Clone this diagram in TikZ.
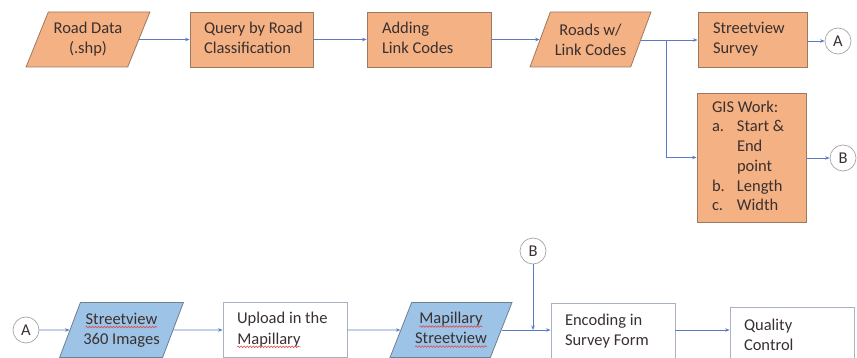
\documentclass[tikz,border=0pt]{standalone}
\usepackage{fontspec}
\setmainfont{Carlito}
\usetikzlibrary{shapes.geometric,arrows.meta,decorations.pathmorphing}
\definecolor{orfill}{HTML}{F4B183}
\definecolor{orline}{HTML}{9C7A62}
\definecolor{blfill}{HTML}{9DC3E6}
\definecolor{blline}{HTML}{6E7F96}
\definecolor{arrc}{HTML}{5B7BC4}
\definecolor{txt}{HTML}{3A3030}
\definecolor{sq}{HTML}{E0474C}
\newcommand\rsq[1]{\tikz[baseline=(w.base),x=1cm,y=1cm]{\node[shape=rectangle, draw=none, fill=none, inner sep=0pt, outer sep=0pt, minimum width=0pt, minimum height=0pt, text width={}, align=none, anchor=center](w){#1};
  \draw[sq,line width=0.6pt,decorate,decoration={snake,amplitude=0.8pt,segment length=3pt}] ([yshift=-2.8pt]w.base west) -- ([yshift=-2.8pt]w.base east);}}
\newcommand\lb[2]{\makebox[#1][l]{\begin{tabular}{@{}l@{}}#2\end{tabular}}}
\tikzset{
  base/.style={font=\fontsize{16.5}{20}\selectfont, text=txt, line width=0.8pt},
  orbox/.style={base, rectangle, draw=orline, fill=orfill, minimum height=55pt, inner xsep=14pt},
  wbox/.style={base, rectangle, draw=blline!60, fill=white, minimum height=55pt, inner xsep=14pt},
  orpara/.style={base, trapezium, trapezium left angle=64.7, trapezium right angle=115.3, trapezium stretches=true, draw=orline, fill=orfill, minimum height=55pt, align=center, inner xsep=0pt},
  blpara/.style={base, trapezium, trapezium left angle=64.7, trapezium right angle=115.3, trapezium stretches=true, draw=blline, fill=blfill, minimum height=55pt, align=center, inner xsep=0pt},
  conn/.style={base, circle, draw=gray!70, fill=white, minimum size=26pt, inner sep=0pt, line width=0.7pt},
  arr/.style={draw=arrc, line width=0.7pt, -{Stealth[length=4.5pt,width=3.5pt]}}
}
\begin{document}
\begin{tikzpicture}[x=1pt,y=-1pt]
\useasboundingbox (0,0) rectangle (857,358);
\clip (0,0) rectangle (857,358);
% top row
\node[orpara, minimum width=124pt] (rd) at (88,39.5) {Road Data\\(.shp)};
\node[orbox] (q) at (251.5,39.5) {\lb{95pt}{Query by Road\\Classification}};
\node[orbox, inner xsep=15pt] (al) at (429,39.5) {\lb{94pt}{Adding\\Link Codes}};
\node[orpara, minimum width=121pt] (rw) at (590.5,39.5) {Roads w/\\Link Codes};
\node[orbox, inner xsep=15pt] (ss) at (752.5,39.5) {\lb{79pt}{Streetview\\Survey}};
\node[conn] (a1) at (838,41) {A};
\node[orbox, inner xsep=15pt, minimum height=129pt] (gis) at (751.5,157.5) {\makebox[79pt][l]{%
  \begin{tabular}{@{}p{25pt}@{}l@{}}
  \multicolumn{2}{@{}l@{}}{GIS Work:}\\[-0.3pt]
  a. & Start \&\\[-0.3pt]
     & End\\[-0.3pt]
     & point\\[-0.3pt]
  b. & Length\\[-0.3pt]
  c. & Width
  \end{tabular}}};
\node[conn] (b1) at (843,158) {B};
\coordinate (br) at (666,40);
\draw[arr] (rd) -- (q);
\draw[arr] (q) -- (al);
\draw[arr] (al) -- (rw);
\draw[arr] (rw.east |- br) -- (ss.west |- br);
\draw[arr] (br) |- (gis.west);
\draw[arr] (ss.east |- a1) -- (a1);
\draw[arr] (gis.east |- b1) -- (b1);
% bottom row
\node[conn] (a2) at (26,330) {A};
\node[blpara, minimum width=124pt] (sv) at (121.5,330) {\rsq{Streetview}\\360 Images};
\node[wbox] (up) at (285,330) {\lb{96pt}{Upload in the\\\rsq{Mapillary}}};
\node[blpara, minimum width=122pt] (ms) at (451,330) {\rsq{Mapillary}\\\rsq{Streetview}};
\node[wbox] (enc) at (613,331) {\lb{96pt}{Encoding in\\Survey Form}};
\node[wbox, minimum height=58pt] (qc) at (792,336) {\lb{96pt}{Quality\\Control}};
\node[conn] (b2) at (533,251) {B};
\coordinate (mj) at (533,330);
\draw[arr] (a2) -- (sv);
\draw[arr] (sv) -- (up);
\draw[arr] (up) -- (ms);
\draw[arr] (ms.east |- mj) -- (enc.west |- mj);
\draw[arr] (b2) -- (mj);
\draw[arr] (enc.east |- mj) -- (qc.west |- mj);
\end{tikzpicture}
\end{document}
